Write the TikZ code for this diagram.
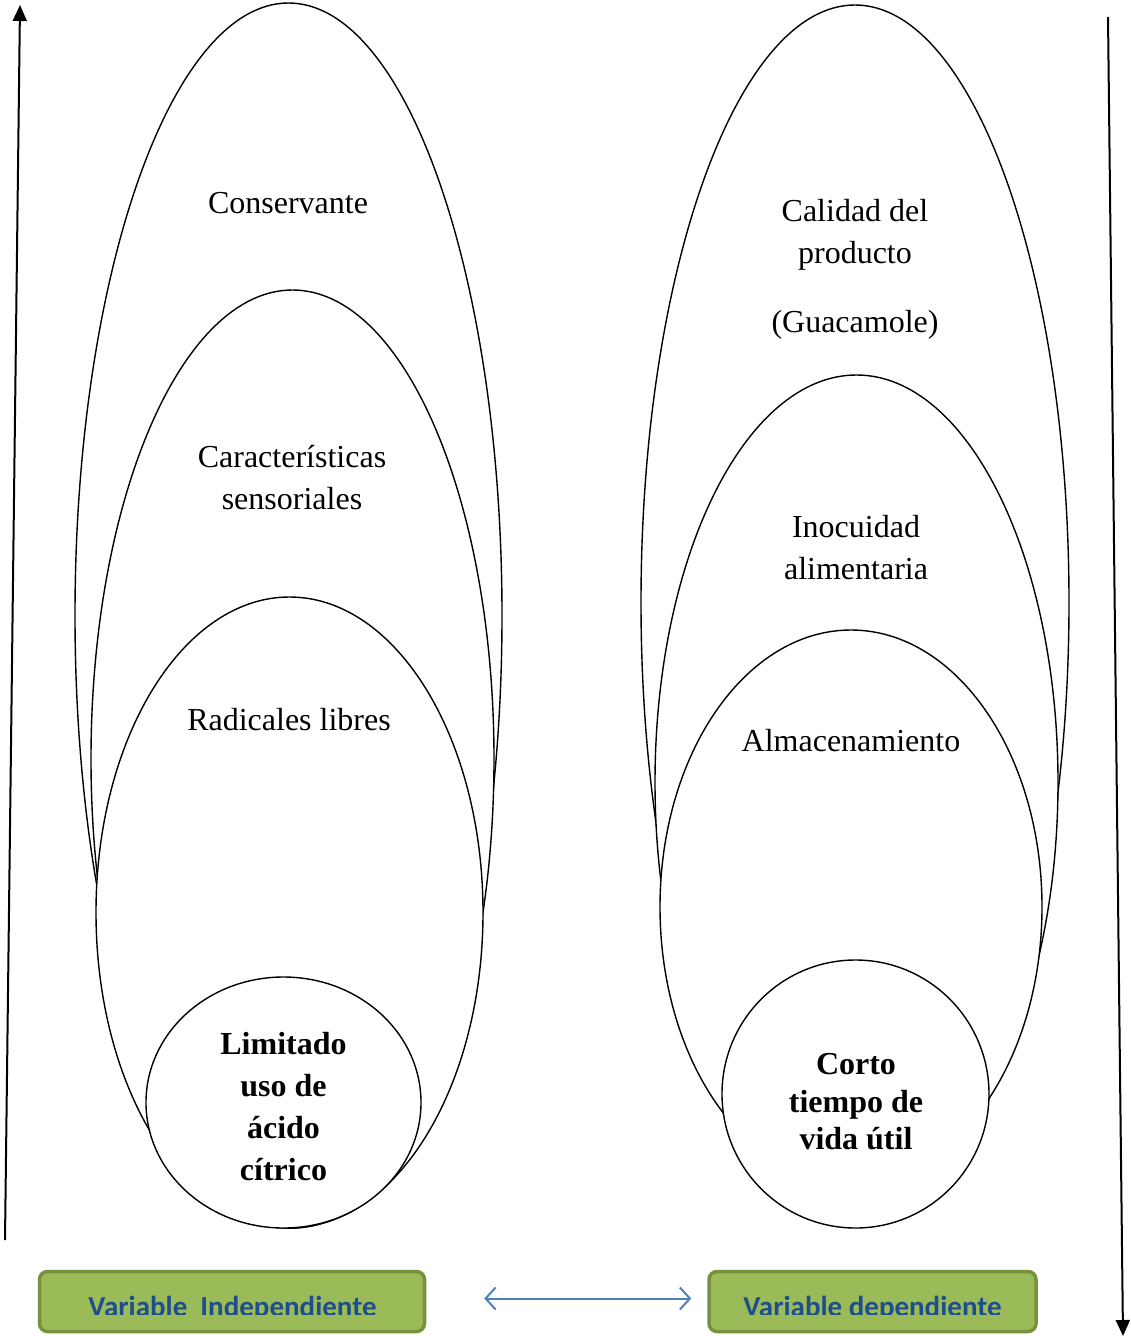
\documentclass[tikz,border=0pt]{standalone}
\usepackage{fontspec}
\setmainfont{Liberation Serif}
\newfontfamily\boxfont{Carlito}
\usetikzlibrary{shapes.geometric,arrows.meta,calc}
\definecolor{boxfill}{HTML}{9BBB59}
\definecolor{boxline}{HTML}{76923C}
\definecolor{boxtext}{HTML}{1F4E8C}
\definecolor{linkblue}{HTML}{4F81BD}
\tikzset{
  oval/.style={ellipse, draw=black, line width=1.4pt, fill=white, inner sep=0pt},
  lbl/.style={font=\fontsize{32}{42}\selectfont, align=center, inner sep=0pt},
  blbl/.style={font=\fontsize{32}{42}\selectfont\bfseries, align=center, inner sep=0pt},
  varbox/.style={draw=boxline, line width=3.5pt, fill=boxfill, rounded corners=8pt, inner sep=0pt},
  vartext/.style={font=\boxfont\bfseries\fontsize{29}{34}\selectfont, text=boxtext, inner sep=0pt, anchor=base},
  axis/.style={line width=2pt, -{Triangle[length=16pt,width=14pt]}}
}
\begin{document}
\begin{tikzpicture}[x=1pt,y=-1pt]
\useasboundingbox (0,0) rectangle (1131,1336);
% left stack
\node[oval, minimum width=427, minimum height=1225] (l1) at (288.5,615.5) {};
\node[lbl] (tl1) at (288,203) {Conservante};
\node[oval, minimum width=403, minimum height=938] (l2) at (292.5,759) {};
\node[lbl] (tl2) at (292,478) {Características\\sensoriales};
\node[oval, minimum width=387, minimum height=631] (l3) at (289.5,912.5) {};
\node[lbl] (tl3) at (289,720) {Radicales libres};
\node[oval, minimum width=275, minimum height=251] (l4) at (283.5,1102.5) {};
\node[blbl] (tl4) at (283.5,1107) {Limitado\\uso de\\ácido\\cítrico};
% right stack
\node[oval, minimum width=428, minimum height=1195] (r1) at (855,602.5) {};
\node[lbl] (tr1) at (855,235) {Calidad del\\producto};
\node[lbl] (tr1b) at (855,325) {(Guacamole)};
\node[oval, minimum width=403, minimum height=815] (r2) at (856.5,782.5) {};
\node[lbl] (tr2) at (856,548) {Inocuidad\\alimentaria};
\node[oval, minimum width=382, minimum height=554] (r3) at (851,907) {};
\node[lbl] (tr3) at (851,741) {Almacenamiento};
\node[oval, minimum width=267, minimum height=268] (r4) at (855.5,1094) {};
\node[blbl, font=\fontsize{32}{37.5}\selectfont\bfseries] (tr4) at (856,1102) {Corto\\tiempo de\\vida útil};
% axes
\coordinate (la0) at (5,1240);
\coordinate (la1) at (20,5);
\draw[axis] (la0) -- (la1);
\coordinate (ra0) at (1108,17);
\coordinate (ra1) at (1123,1336);
\draw[axis] (ra0) -- (ra1);
% boxes
\node[varbox, minimum width=385, minimum height=60] (vi) at (232,1301.5) {};
\node[varbox, minimum width=327, minimum height=60] (vd) at (872.5,1301.5) {};
\begin{scope}
\clip (0,0) rectangle (1131,1314.5);
\node[vartext] (tvi) at (232.5,1316) {Variable\ \ Independiente};
\node[vartext] (tvd) at (872.5,1316) {Variable dependiente};
\end{scope}
\coordinate (ba) at ($(vi.east)+(58,-3)$);
\coordinate (bb) at ($(vd.west)+(-16,-3)$);
\draw[linkblue, line width=2pt, {Straight Barb[length=10pt,width=22pt]}-{Straight Barb[length=10pt,width=22pt]}] (ba) -- (bb);
\end{tikzpicture}
\end{document}
